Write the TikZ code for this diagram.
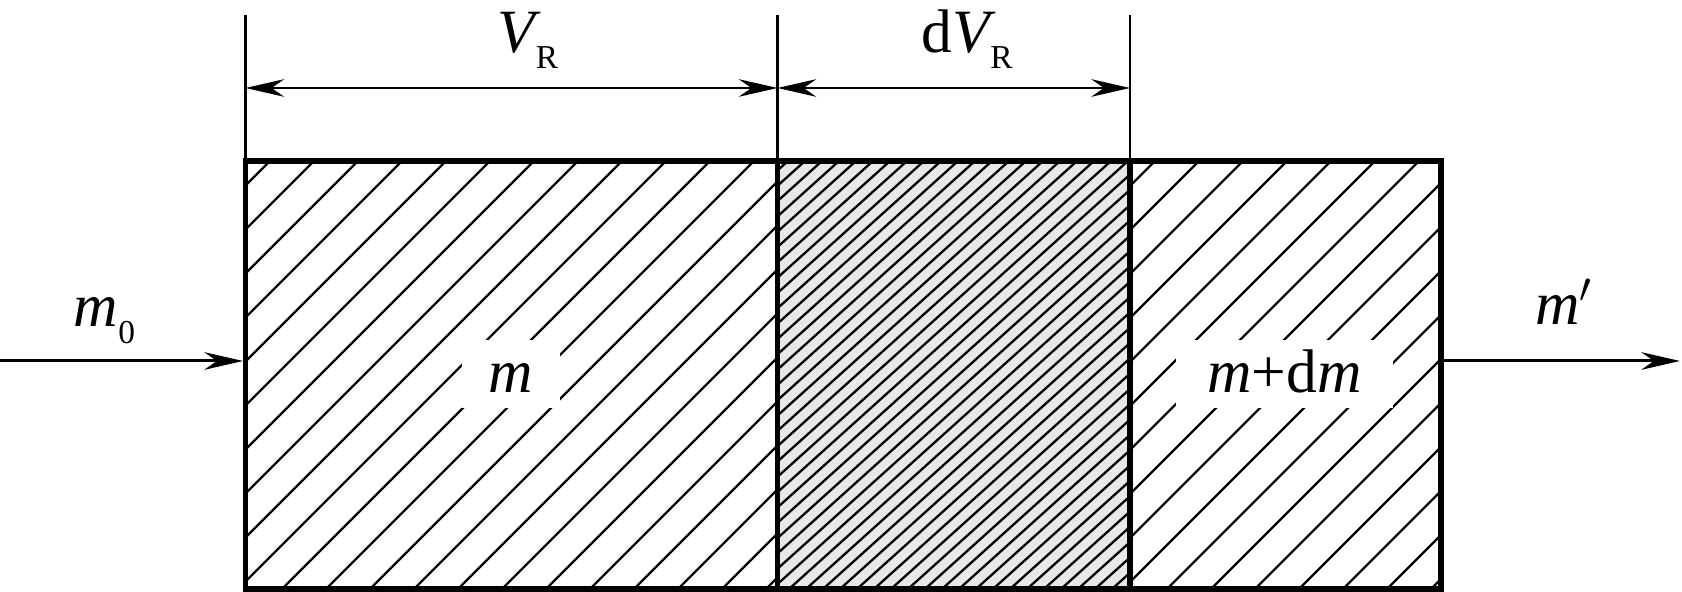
\documentclass[tikz,border=0pt]{standalone}
\usepackage{fontspec}
\setmainfont{Liberation Serif}
\usetikzlibrary{arrows.meta}
\newcommand{\lowsub}[1]{\raisebox{-0.16cm}{\fontsize{9.5}{10}\selectfont #1}}

\begin{document}
\begin{tikzpicture}[
  x=0.01cm, y=-0.01cm,
  font=\fontsize{17.5}{20}\selectfont,
  wall/.style={line width=1.5pt},
  hatch/.style={line width=0.65pt},
  extline/.style={line width=0.6pt},
  dimarr/.style={{Stealth[length=11pt,width=5pt]}-{Stealth[length=11pt,width=5pt]}, line width=0.75pt},
  flow/.style={-{Stealth[length=11pt,width=5pt]}, line width=0.85pt},
  lbl/.style={anchor=base, inner sep=0pt},
  tag/.style={fill=white, inner xsep=0pt, minimum height=0.68cm, text height=0.36cm, text depth=0cm}
]
\useasboundingbox (0,0) rectangle (1682,592);

% Reactor: wall positions
\coordinate (a1) at (245.5,161);
\coordinate (a2) at (777.5,161);
\coordinate (a3) at (1130,161);
\coordinate (b1) at (245.5,589);
\coordinate (b2) at (777.5,589);
\coordinate (b3) at (1130,589);
\coordinate (b4) at (1441,589);

% Left part: volume V_R
\begin{scope}
  \clip (a1) rectangle (b2);
  \foreach \c in {387,431,...,1400}
    \draw[hatch] (\c-589,589) -- (\c-161,161);
\end{scope}

% Middle part: element dV_R
\fill[black!9] (a2) rectangle (b3);
\begin{scope}
  \clip (a2) rectangle (b3);
  \foreach \t in {771,788,...,1610}
    \draw[hatch] (\t-475,589) -- (\t,161);
\end{scope}

% Right part
\begin{scope}
  \clip (a3) rectangle (b4);
  \foreach \c in {1272,1316,...,2040}
    \draw[hatch] (\c-589,589) -- (\c-161,161);
\end{scope}

% Walls
\draw[wall] (a1) rectangle (b4);
\draw[wall] (a2) -- (b2);
\draw[wall] (a3) -- (b3);

% Masses inside
\node[tag, minimum width=0.98cm] (m) at (511,374) {\textit{m}};
\node[tag, minimum width=2.17cm] (mdm) at (1284.5,374) {\textit{m}+d\textit{m}};

% Dimensions
\coordinate (e1) at (245.5,15);
\coordinate (e2) at (777.5,15);
\coordinate (e3) at (1130,15);
\draw[extline] (e1) -- (a1);
\draw[extline] (e2) -- (a2);
\draw[extline] (e3) -- (a3);
\coordinate (d1) at (245.5,88);
\coordinate (d2) at (777.5,88);
\coordinate (d3) at (1130,88);
\draw[dimarr] (d1) -- (d2);
\draw[dimarr] (d2) -- (d3);
\node[lbl] (vr) at (528,53) {\textit{V}\kern-1.5pt\lowsub{R}};
\node[lbl] (dvr) at (967,53) {d\textit{V}\kern-1.5pt\lowsub{R}};

% Feed and outlet streams
\coordinate (inflow) at (0,361);
\coordinate (inlet) at (243,361);
\coordinate (outlet) at (1444,361);
\coordinate (outflow) at (1680,361);
\draw[flow] (inflow) -- (inlet);
\draw[flow] (outlet) -- (outflow);
\node[lbl] (m0) at (104.5,327) {\textit{m}\lowsub{0}};
\node[lbl] (mout) at (1564,325) {\textit{m}$'$};

\end{tikzpicture}
\end{document}
